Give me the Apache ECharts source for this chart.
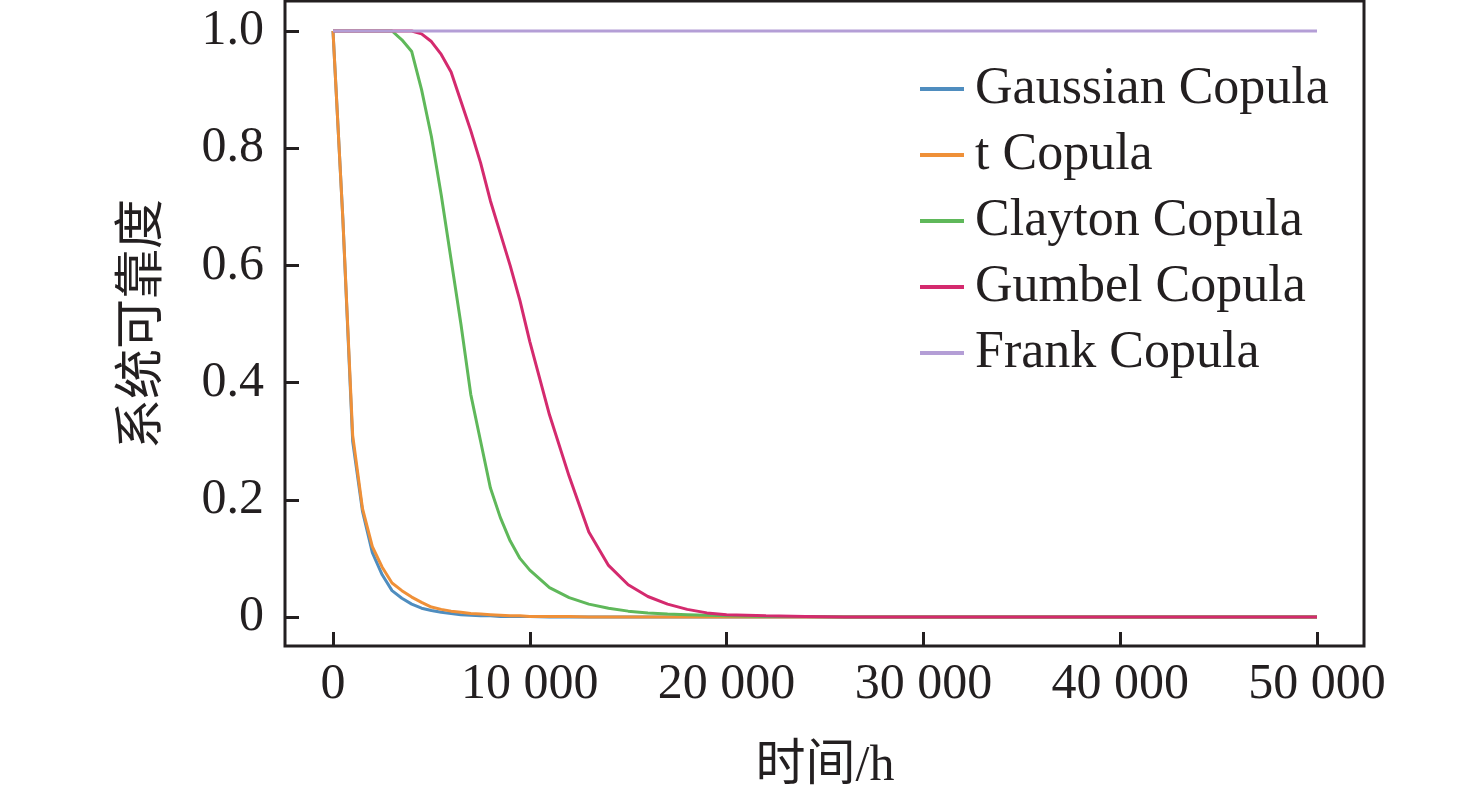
<!DOCTYPE html>
<html>
<head>
<meta charset="utf-8">
<title>系统可靠度</title>
<script src="https://cdn.jsdelivr.net/npm/echarts@6/dist/echarts.min.js"></script>
<style>
  html, body { margin: 0; padding: 0; background: #fff; }
  #main { width: 1476px; height: 798px; }
</style>
</head>
<body>
<div id="main"></div>
<script>
// 时间点 (h)
var time = [0, 500, 1000, 1500, 2000, 2500, 3000, 3500, 4000, 4500, 5000, 5500, 6000, 6500, 7000, 7500, 8000, 8500, 9000, 9500,
  10000, 11000, 12000, 13000, 14000, 15000, 16000, 17000, 18000, 19000, 20000, 22000, 24000, 26000, 30000, 35000, 40000, 45000, 50000]

// 各 Copula 下的系统可靠度
var gaussian = [1.0, 0.68, 0.30, 0.18, 0.11, 0.072, 0.045, 0.032, 0.022, 0.015, 0.011, 0.008, 0.006, 0.004, 0.003, 0.002, 0.002, 0.001, 0.001, 0.001,
  0.001, 0, 0, 0, 0, 0, 0, 0, 0, 0, 0, 0, 0, 0, 0, 0, 0, 0, 0]
var tCopula = [1.0, 0.68, 0.31, 0.185, 0.12, 0.085, 0.058, 0.045, 0.034, 0.025, 0.017, 0.013, 0.010, 0.008, 0.006, 0.005, 0.004, 0.003, 0.002, 0.002,
  0.001, 0.001, 0.001, 0, 0, 0, 0, 0, 0, 0, 0, 0, 0, 0, 0, 0, 0, 0, 0]
var clayton = [1.0, 1.0, 1.0, 1.0, 1.0, 1.0, 1.0, 0.985, 0.965, 0.90, 0.82, 0.72, 0.61, 0.50, 0.38, 0.30, 0.22, 0.17, 0.13, 0.10,
  0.08, 0.05, 0.033, 0.022, 0.015, 0.010, 0.007, 0.005, 0.004, 0.003, 0.002, 0.001, 0.001, 0, 0, 0, 0, 0, 0]
var gumbel = [1.0, 1.0, 1.0, 1.0, 1.0, 1.0, 1.0, 1.0, 1.0, 0.995, 0.982, 0.96, 0.93, 0.88, 0.83, 0.775, 0.71, 0.655, 0.60, 0.54,
  0.47, 0.345, 0.24, 0.145, 0.088, 0.055, 0.035, 0.022, 0.013, 0.007, 0.004, 0.002, 0.001, 0, 0, 0, 0, 0, 0]
var frank = [1.0, 1.0, 1.0, 1.0, 1.0, 1.0, 1.0, 1.0, 1.0, 1.0, 1.0, 1.0, 1.0, 1.0, 1.0, 1.0, 1.0, 1.0, 1.0, 1.0,
  1.0, 1.0, 1.0, 1.0, 1.0, 1.0, 1.0, 1.0, 1.0, 1.0, 1.0, 1.0, 1.0, 1.0, 1.0, 1.0, 1.0, 1.0, 1.0]

var names = ['Gaussian Copula', 't Copula', 'Clayton Copula', 'Gumbel Copula', 'Frank Copula']
var colors = ['#4f8dbf', '#ef9038', '#5fb85a', '#d42a6e', '#b49ed6']

var font = '"Liberation Serif", "Times New Roman", "Noto Sans CJK SC", serif'
var ink = '#231f20'

function pairs (vals) {
  return time.map(function (t, i) { return [t, vals[i]] })
}

var myChart = echarts.init(document.getElementById('main'))

myChart.setOption({
  animation: false,
  color: colors,
  grid: [
    // 数据区 (0~50000, 0~1)
    { left: 333, top: 31, right: 159, bottom: 181 },
    // 外框
    { left: 285, top: 1, right: 112, bottom: 152, show: true, borderColor: ink, borderWidth: 3, backgroundColor: 'transparent', z: 0 }
  ],
  legend: {
    orient: 'vertical',
    left: 915, top: 58,
    icon: 'rect', itemWidth: 44, itemHeight: 4, itemGap: 14,
    data: names,
    textStyle: { fontFamily: font, fontSize: 52, color: ink, lineHeight: 52, padding: [0, 0, 0, 6] }
  },
  xAxis: [{
    type: 'value', gridIndex: 0,
    min: 0, max: 50000, interval: 10000,
    offset: 29,
    name: '时间/h', nameLocation: 'middle', nameGap: 96,
    nameTextStyle: { fontFamily: font, fontSize: 50, color: ink },
    axisLine: { show: false, onZero: false },
    splitLine: { show: false },
    axisTick: { show: true, inside: true, length: 14, lineStyle: { color: ink, width: 3 } },
    axisLabel: {
      margin: 14,
      fontFamily: font, fontSize: 50, color: ink,
      formatter: function (v) { return String(v).replace(/\B(?=(\d{3})+(?!\d))/g, ' ') }
    }
  }, {
    type: 'value', gridIndex: 1, show: false
  }],
  yAxis: [{
    type: 'value', gridIndex: 0,
    min: 0, max: 1, interval: 0.2,
    offset: 48,
    name: '系统可靠度', nameLocation: 'middle', nameGap: 116, nameRotate: 90,
    nameTextStyle: { fontFamily: font, fontSize: 50, color: ink },
    axisLine: { show: false, onZero: false },
    splitLine: { show: false },
    axisTick: { show: true, inside: true, length: 14, lineStyle: { color: ink, width: 3 } },
    axisLabel: {
      margin: 21,
      fontFamily: font, fontSize: 50, color: ink,
      formatter: function (v) { return v === 0 ? '0' : v.toFixed(1) }
    }
  }, {
    type: 'value', gridIndex: 1, show: false
  }],
  series: names.map(function (n, k) {
    return {
      name: n,
      type: 'line',
      xAxisIndex: 0, yAxisIndex: 0,
      showSymbol: false,
      clip: false,
      data: pairs([gaussian, tCopula, clayton, gumbel, frank][k]),
      lineStyle: { width: 3 }
    }
  })
})
</script>
</body>
</html>
